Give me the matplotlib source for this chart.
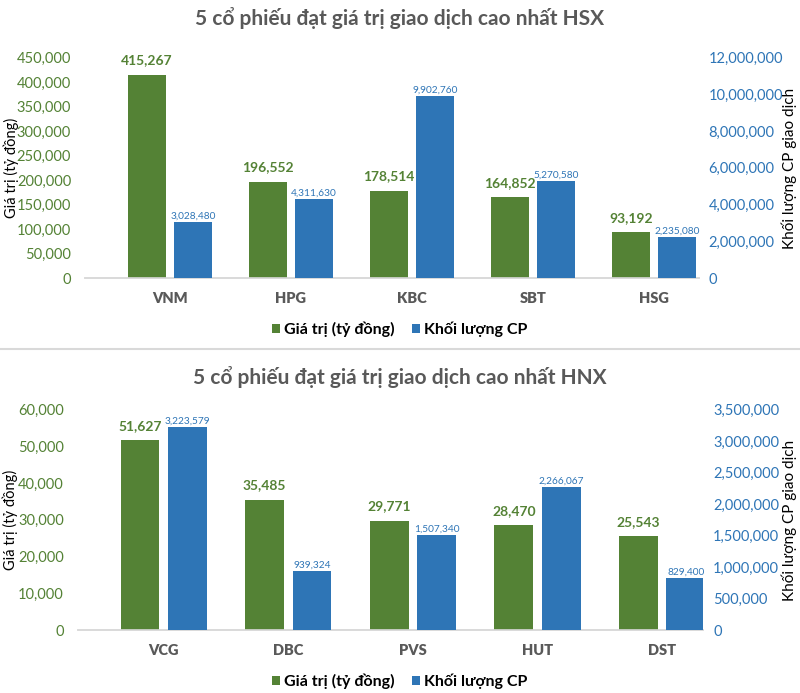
import matplotlib
matplotlib.use("Agg")
import matplotlib.pyplot as plt
import numpy as np

plt.rcParams['font.family'] = ['Lato', 'Noto Sans', 'DejaVu Sans']

# ---- data ----
hsx_codes = ["VNM", "HPG", "KBC", "SBT", "HSG"]
hsx_value = [415267, 196552, 178514, 164852, 93192]
hsx_volume = [3028480, 4311630, 9902760, 5270580, 2235080]

hnx_codes = ["VCG", "DBC", "PVS", "HUT", "DST"]
hnx_value = [51627, 35485, 29771, 28470, 25543]
hnx_volume = [3223579, 939324, 1507340, 2266067, 829400]

GREEN = "#548235"
BLUE = "#2e75b6"
GRAY = "#595959"

W, H = 800, 693
fig = plt.figure(figsize=(8, 6.93), dpi=100)


def px_axes(left, right, top, bottom):
    return fig.add_axes([left / W, 1 - bottom / H, (right - left) / W, (bottom - top) / H])


def panel(ax, codes, value, volume, vmax, vstep, rmax, rstep, xlim, title, title_y,
          ylab_x, rlab_x, lab_y, legend_y):
    x = np.arange(len(codes))
    bw = 0.312
    off = 0.19
    ax2 = ax.twinx()
    gb = ax.bar(x - off, value, bw, color=GREEN, label="Giá trị (tỷ đồng)", zorder=3)
    bb = ax2.bar(x + off, volume, bw, color=BLUE, label="Khối lượng CP", zorder=3)

    ax.set_xlim(*xlim)
    ax.set_ylim(0, vmax)
    ax2.set_ylim(0, rmax)
    ax.set_yticks(np.arange(0, vmax + 1, vstep))
    ax2.set_yticks(np.arange(0, rmax + 1, rstep))
    ax.yaxis.set_major_formatter(matplotlib.ticker.StrMethodFormatter("{x:,.0f}"))
    ax2.yaxis.set_major_formatter(matplotlib.ticker.StrMethodFormatter("{x:,.0f}"))
    ax.set_xticks(x)
    ax.set_xticklabels(codes, fontsize=10.5, fontweight="heavy", color=GRAY)

    for a in (ax, ax2):
        for s in ("top", "left", "right"):
            a.spines[s].set_visible(False)
        a.spines["bottom"].set_color("#d9d9d9")
        a.spines["bottom"].set_linewidth(1.2)
        a.patch.set_visible(False)
    ax.tick_params(axis="y", length=0, pad=10, labelsize=10.5, labelcolor=GREEN)
    ax2.tick_params(axis="y", length=0, pad=7, labelsize=10.5, labelcolor=BLUE)
    ax.tick_params(axis="x", length=0, pad=10)

    # axis titles, placed in pixels
    fig.text(ylab_x / W, 1 - lab_y / H, "Giá trị (tỷ đồng)", rotation=90,
             ha="center", va="center", fontsize=10.5, color="black")
    fig.text(rlab_x / W, 1 - lab_y / H, "Khối lượng CP giao dịch", rotation=90,
             ha="center", va="center", fontsize=11, color="black")

    for rect, v in zip(gb, value):
        ax.annotate(f"{v:,}", (rect.get_x() + rect.get_width() / 2, v),
                    xytext=(0, 6), textcoords="offset points", ha="center", va="bottom",
                    fontsize=10, fontweight="bold", color=GREEN)
    for rect, v in zip(bb, volume):
        ax2.annotate(f"{v:,}", (rect.get_x() + rect.get_width() / 2, v),
                     xytext=(0, 1), textcoords="offset points", ha="center", va="bottom",
                     fontsize=7.3, color=BLUE)

    fig.text(0.5, 1 - title_y / H, title, ha="center", va="center",
             fontsize=15, fontweight="bold", color=GRAY)
    fig.legend(handles=[gb, bb], loc="center", bbox_to_anchor=(0.5, 1 - legend_y / H),
               ncol=2, frameon=False, handlelength=0.5, handleheight=0.5,
               handletextpad=0.25, columnspacing=1.1,
               prop={"weight": "bold", "size": 11.5})


ax_top = px_axes(85, 699, 57.7, 278)
panel(ax_top, hsx_codes, hsx_value, hsx_volume, 450000, 50000, 12000000, 2000000,
      (-0.70, 4.37), "5 cổ phiếu đạt giá trị giao dịch cao nhất HSX", 18,
      11, 789, 168, 329)

ax_bot = px_axes(77.7, 703.3, 409.7, 630)
panel(ax_bot, hnx_codes, hnx_value, hnx_volume, 60000, 10000, 3500000, 500000,
      (-0.69, 4.33), "5 cổ phiếu đạt giá trị giao dịch cao nhất HNX", 377,
      10, 789, 520, 681)

# separator between the two panels
fig.add_artist(plt.Line2D([0, 1], [1 - 349 / H, 1 - 349 / H], color="#d9d9d9",
                          linewidth=1.5, transform=fig.transFigure))

fig.savefig("out.png", dpi=100, facecolor="white")
